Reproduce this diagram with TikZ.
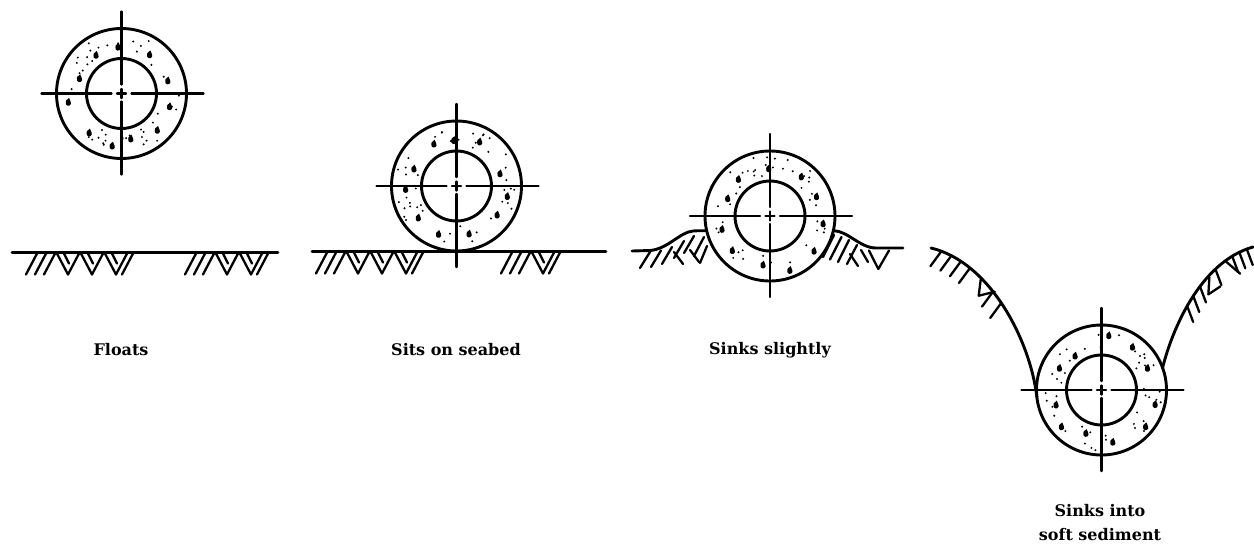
\documentclass[tikz,border=0pt]{standalone}
\usepackage{fontspec}
\setmainfont{DejaVu Serif}
\usetikzlibrary{calc}

% A concrete-coated pipe: outer and inner wall, speckled coating, centre lines
\newcommand\drawpipe[4]{% #1 name, #2 x, #3 y, #4 seed
  \coordinate (#1) at (#2,#3);
  \pgfmathsetseed{#4}
  \foreach \i in {1,...,44}{
    \pgfmathsetmacro\ang{rnd*360}
    \pgfmathsetmacro\rad{40+rnd*21}
    \fill (#1) ++(\ang:\rad) circle[radius=1.1];
  }
  \foreach \i in {1,...,11}{
    \pgfmathsetmacro\ang{\i*32.7+rnd*16}
    \pgfmathsetmacro\rad{44+rnd*13}
    \fill (#1) ++(\ang:\rad) ++(-1.4,0) -- ++(3,-2.6) -- ++(1.6,3.8)
      arc[start angle=-30,end angle=200,radius=2.7] -- cycle;
  }
  \draw[wall] (#1) circle[radius=65];
  \draw[wall] (#1) circle[radius=35];
  \draw[cline] (#1) ++(-80,0) -- ++(70,0);
  \draw[cline] (#1) ++(10,0) -- ++(72,0);
  \draw[cline] (#1) ++(0,-82) -- ++(0,73);
  \draw[cline] (#1) ++(0,8) -- ++(0,73);
  \draw[cline] (#1) ++(-4.5,0) -- ++(9,0) (#1) ++(0,-4.5) -- ++(0,9);
}

% Soil hatching below a flat seabed line:
% three slashes, a run of V's, and a closing slash
\newcommand\soilgroup[3]{% #1 first x, #2 ground y, #3 number of V's
  \foreach \k in {0,1,2}
    \draw[hatchline] (#1+9*\k,#2+1) -- ++(-11,21);
  \foreach \k in {1,...,#3}{
    \draw[hatchline] (#1+20+24*\k-24,#2+1) -- ++(11,21) -- ++(11,-21);
    \draw[hatchline] (#1+27+24*\k-24,#2+1) -- ++(5,10);
  }
  \draw[hatchline] (#1+24*#3+24,#2+1) -- ++(-11,21);
}

\begin{document}
\begin{tikzpicture}[x=1pt,y=-1pt,line cap=round,line join=round,
  wall/.style={line width=2.9pt},
  cline/.style={line width=2.4pt},
  hatchline/.style={line width=2.3pt},
  caption/.style={font=\bfseries\fontsize{16}{24}\selectfont,align=center,inner sep=0pt}]
\useasboundingbox (0,0) rectangle (1254,547);

% ---- Floats ----
\drawpipe{p1}{121.5}{93.5}{11}
\coordinate (g1a) at (12,252.5);
\coordinate (g1b) at (278,252.5);
\draw[wall] (g1a) -- (g1b);
\soilgroup{37}{252.5}{3}
\soilgroup{196}{252.5}{2}
\node[caption] (t1) at (121,350) {Floats};

% ---- Sits on seabed ----
\drawpipe{p2}{456.5}{186}{23}
\coordinate (g2a) at (312,251.5);
\coordinate (g2b) at (606,251.5);
\draw[wall] (g2a) -- (g2b);
\soilgroup{327}{251.5}{3}
\soilgroup{512}{251.5}{1}
\node[caption] (t2) at (456,350) {Sits on seabed};

% ---- Sinks slightly ----
\drawpipe{p3}{770}{216}{37}
\coordinate (g3a) at (632,251);
\coordinate (g3b) at (903,248);
\draw[wall] (g3a) -- (650,250.5) .. controls (668,249) and (680,232) .. (693,231)
  .. controls (699,230.5) and (703,231) .. ($(p3)+(167:65)$);
\draw[wall] ($(p3)+(13:65)$) .. controls (848,231) and (860,248) .. (876,248) -- (g3b);
% soil under the two mounds
\foreach \ax/\ay/\bx/\by in {650/252/640/268, 661/250.5/651/267, 672/247/662/264,
    674/252/683/264, 684/241/674/258, 694/236/684/253, 690/250/699/262,
    704/237/694/256, 707/246/700/263,
    834/235/823/257, 841.5/237/830/259.5, 849/240/838/262, 857/245/847/264,
    850/254/858/266, 861/250/868/262}
  \draw[hatchline] (\ax,\ay) -- (\bx,\by);
\draw[hatchline] (869,250.5) -- (878.3,269) -- (889,250.5);
\node[caption] (t3) at (770,350) {Sinks slightly};

% ---- Sinks into soft sediment ----
\drawpipe{p4}{1101.5}{390}{53}
\coordinate (w1) at (931,248);
\coordinate (w2) at (1253,247);
\draw[wall] (w1) .. controls (990,262) and (1030,340) .. ($(p4)+(174:65)$)
  coordinate[pos=0.06] (l1) coordinate[pos=0.12] (l2) coordinate[pos=0.18] (l3)
  coordinate[pos=0.24] (l4) coordinate[pos=0.33] (l5) coordinate[pos=0.41] (l6)
  coordinate[pos=0.48] (l7);
\draw[wall] (w2) .. controls (1200,262) and (1172,330) .. ($(p4)+(-20:65)$)
  coordinate[pos=0.04] (r1) coordinate[pos=0.09] (r2) coordinate[pos=0.14] (r3)
  coordinate[pos=0.2] (r4) coordinate[pos=0.27] (r5) coordinate[pos=0.34] (r6)
  coordinate[pos=0.41] (r7) coordinate[pos=0.48] (r8) coordinate[pos=0.55] (r9);
\foreach \c in {l1,l2,l3,l4,l6,l7} \draw[hatchline] (\c) -- ++(-11,15);
\draw[hatchline] (l5) ++(-2,0) -- ++(-2,16) -- ++(16,-4);
\foreach \c in {r1,r2,r3,r5,r7,r8,r9} \draw[hatchline] (\c) -- ++(6,16);
\draw[hatchline] (r4) ++(2,0) -- ++(14,12);
\draw[hatchline] (r6) ++(2,0) -- ++(-1,17) -- ++(12,-8);
\node[caption] (t4) at (1100,523) {Sinks into\\soft sediment};
\end{tikzpicture}
\end{document}
